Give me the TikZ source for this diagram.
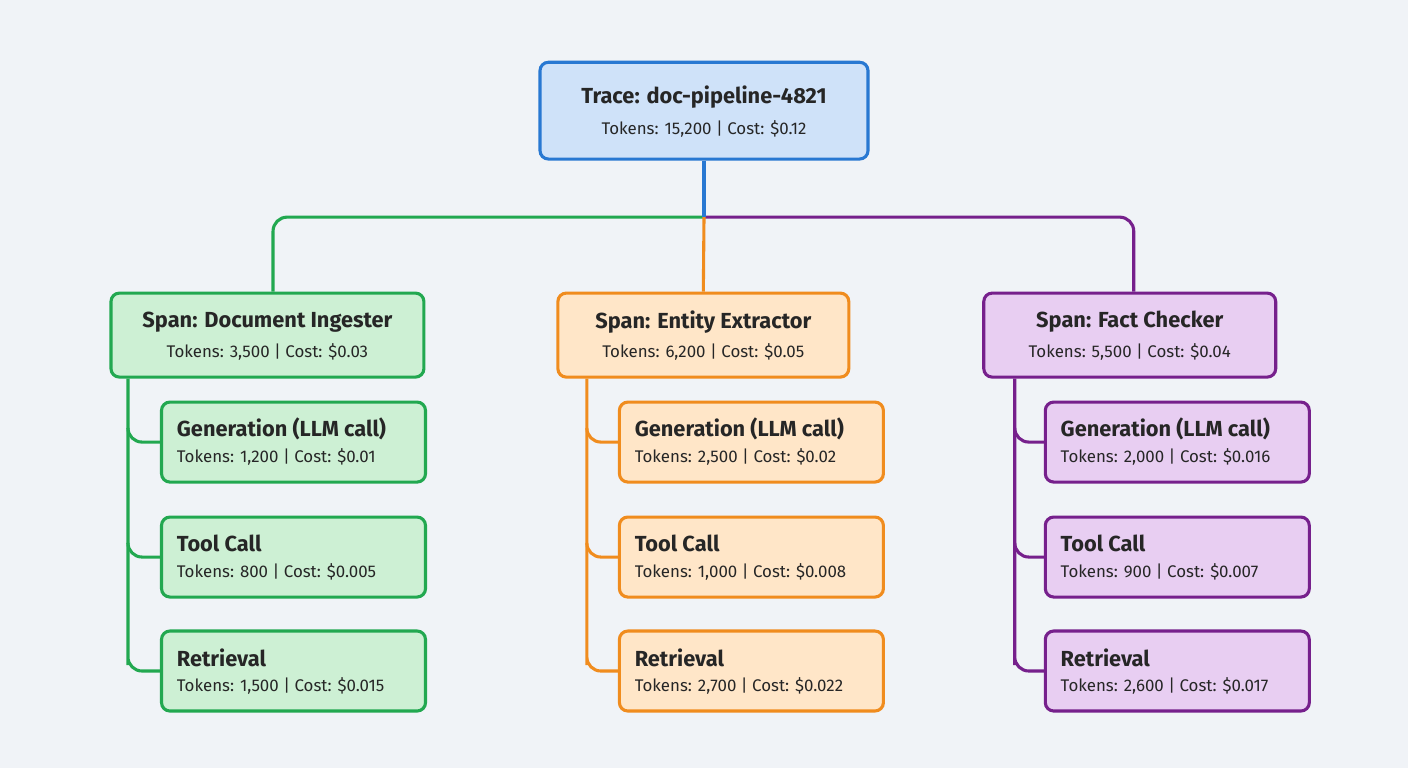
\documentclass[tikz,border=0pt]{standalone}
\usepackage{fontspec}
\setmainfont{Fira Sans}
\usetikzlibrary{positioning}
\definecolor{bgc}{RGB}{240,243,247}
\definecolor{blueS}{RGB}{40,120,210}\definecolor{blueF}{RGB}{207,226,249}
\definecolor{greenS}{RGB}{34,168,80}\definecolor{greenF}{RGB}{205,240,212}
\definecolor{orangeS}{RGB}{240,140,30}\definecolor{orangeF}{RGB}{255,230,200}
\definecolor{purpleS}{RGB}{118,32,140}\definecolor{purpleF}{RGB}{232,206,242}
\tikzset{
  box/.style={draw=#1S, fill=#1F, line width=2.2pt, rounded corners=6pt},
  conn/.style={draw=#1S, line width=2.2pt, rounded corners=10pt},
  ttl/.style={font=\fontsize{15.5}{18}\selectfont\bfseries\color{black!85}},
  sub/.style={font=\fontsize{12}{14}\selectfont\color{black!85}}
}
% px to cm: 0.025, y flipped
\newcommand{\spanbox}[6]{% name, colour, cx, w, title, sub
  \node[box=#2, minimum width=#4*0.025cm, minimum height=2.1cm] (#1) at (#3*0.025, {(768-335)*0.025}) {};
  \node[ttl] (#1t) at ([yshift=0.33cm]#1.center) {#5};
  \node[sub] (#1s) at ([yshift=-0.42cm]#1.center) {#6};
}
\newcommand{\childbox}[6]{% name, colour, left, cy, title, sub
  \node[box=#2, minimum width=6.6cm, minimum height=2cm, anchor=west] (#1) at (#3*0.025, {(768-#4)*0.025}) {};
  \node[ttl, anchor=west] (#1t) at ([xshift=0.3cm, yshift=0.33cm]#1.west) {#5};
  \node[sub, anchor=west] (#1s) at ([xshift=0.3cm, yshift=-0.38cm]#1.west) {#6};
}
\begin{document}
\begin{tikzpicture}
\fill[bgc] (0,0) rectangle (35.2,19.2);
\useasboundingbox (0,0) rectangle (35.2,19.2);

% Root
\node[box=blue, minimum width=8.2cm, minimum height=2.42cm] (root) at (17.6, {(768-110.5)*0.025}) {};
\node[ttl] (roott) at ([yshift=0.33cm]root.center) {Trace: doc-pipeline-4821};
\node[sub] (roots) at ([yshift=-0.45cm]root.center) {Tokens: 15,200 | Cost: \$0.12};

% Spans
\spanbox{sA}{green}{267.5}{313}{Span: Document Ingester}{Tokens: 3,500 | Cost: \$0.03}
\spanbox{sB}{orange}{703.5}{291}{Span: Entity Extractor}{Tokens: 6,200 | Cost: \$0.05}
\spanbox{sC}{purple}{1130}{292}{Span: Fact Checker}{Tokens: 5,500 | Cost: \$0.04}

% Children
\childbox{a1}{green}{160}{442}{Generation (LLM call)}{Tokens: 1,200 | Cost: \$0.01}
\childbox{a2}{green}{160}{557}{Tool Call}{Tokens: 800 | Cost: \$0.005}
\childbox{a3}{green}{160}{671}{Retrieval}{Tokens: 1,500 | Cost: \$0.015}
\childbox{b1}{orange}{618}{442}{Generation (LLM call)}{Tokens: 2,500 | Cost: \$0.02}
\childbox{b2}{orange}{618}{557}{Tool Call}{Tokens: 1,000 | Cost: \$0.008}
\childbox{b3}{orange}{618}{671}{Retrieval}{Tokens: 2,700 | Cost: \$0.022}
\childbox{c1}{purple}{1044}{442}{Generation (LLM call)}{Tokens: 2,000 | Cost: \$0.016}
\childbox{c2}{purple}{1044}{557}{Tool Call}{Tokens: 900 | Cost: \$0.007}
\childbox{c3}{purple}{1044}{671}{Retrieval}{Tokens: 2,600 | Cost: \$0.017}

% Root to spans
\coordinate (fork) at (17.6, {(768-217)*0.025});
\draw[conn=green] (fork) -| ([xshift=0.14cm]sA.north);
\draw[conn=purple] (fork) -| ([xshift=0.1cm]sC.north);
\draw[conn=orange] (fork) -- (sB.north);
\draw[conn=blue, rounded corners=0pt] (root.south) -- (fork);

% Spans to children
\foreach \s/\k/\c/\x in {sA/a/green/128, sB/b/orange/587, sC/c/purple/1015}{
  \draw[conn=\c] (\x*0.025, 0 |- \s.south) -- ([yshift=0.5cm]\x*0.025, 0 |- \k3.west) |- (\k3.west);
  \foreach \i in {1,2}{
    \draw[conn=\c] (\x*0.025, 0 |- \k\i.west) ++(0,0.35) |- (\k\i.west);
  }
}
\end{tikzpicture}
\end{document}
